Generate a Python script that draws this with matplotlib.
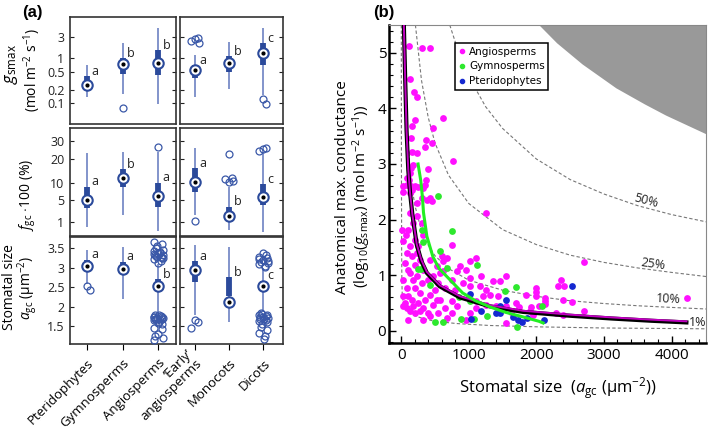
import numpy as np
import matplotlib
matplotlib.use("Agg")
import matplotlib.pyplot as plt
from matplotlib.lines import Line2D
from matplotlib.ticker import MultipleLocator, NullLocator
from matplotlib.transforms import ScaledTranslation

plt.rcParams['font.family'] = ['Open Sans', 'DejaVu Sans']
plt.rcParams['mathtext.fontset'] = 'custom'
plt.rcParams['mathtext.rm'] = 'Open Sans'
plt.rcParams['mathtext.it'] = 'Open Sans:italic'

# ---------------- panel (a) data ----------------
groups = ['Pteridophytes', 'Gymnosperms', 'Angiosperms',
          '\u2018Early\u2019\nangiosperms', 'Monocots', 'Dicots']

# g_smax (mol m-2 s-1)
gs_lo = [0.14, 0.158, 0.096, 0.14, 0.204, 0.153]
gs_q1 = [0.227, 0.448, 0.425, 0.36, 0.50, 0.71]
gs_med = [0.255, 0.736, 0.774, 0.55, 0.80, 1.29]
gs_q3 = [0.40, 1.0, 1.53, 0.71, 1.12, 2.15]
gs_hi = [0.71, 2.22, 4.64, 1.18, 2.27, 4.64]
gs_out = [[], [0.0775], [], [2.64, 2.78, 2.42, 2.15], [], [0.123, 0.096]]
gs_let = ['a', 'b', 'b', 'a', 'b', 'c']

# f_gc * 100 (%)
fg_lo = [0.49, 1.92, 0.26, 1.92, 0.30, 0.21]
fg_q1 = [3.08, 8.55, 3.40, 7.18, 1.44, 3.76]
fg_med = [4.92, 11.7, 5.95, 10.5, 1.77, 5.77]
fg_q3 = [8.74, 15.4, 10.1, 15.8, 3.40, 9.55]
fg_hi = [23.2, 24.0, 24.0, 25.9, 8.74, 24.0]
fg_out = [[], [], [26.5], [1.10], [22.6, 11.9, 11.5, 10.8, 10.5], [25.5, 26.2, 24.6]]
fg_let = ['a', 'b', 'a', 'a', 'b', 'c']

# stomatal size a_gc
sz_lo = [2.575, 2.2, 1.8, 1.78, 1.62, 1.87]
sz_q1 = [2.95, 2.85, 2.45, 2.62, 2.28, 2.45]
sz_med = [3.05, 2.97, 2.53, 2.95, 2.13, 2.52]
sz_q3 = [3.2, 3.15, 2.7, 3.16, 2.75, 2.66]
sz_hi = [3.45, 3.52, 3.1, 3.575, 3.53, 3.0]
sz_out = [[2.53, 2.43], [],
          [3.12, 3.18, 3.22, 3.25, 3.28, 3.3, 3.32, 3.35, 3.38, 3.4, 3.42, 3.45,
           3.5, 3.55, 3.6, 3.66, 3.27, 3.36, 3.31, 3.24,
           1.8, 1.78, 1.76, 1.75, 1.73, 1.72, 1.7, 1.68, 1.66, 1.65, 1.62, 1.74,
           1.71, 1.69, 1.58, 1.55, 1.45, 1.42, 1.3, 1.25, 1.2, 1.15],
          [1.66, 1.62, 1.47], [],
          [3.38, 3.32, 3.28, 3.25, 3.2, 3.15, 3.12, 3.08, 3.05, 3.02, 3.22, 3.18,
           1.85, 1.82, 1.8, 1.78, 1.76, 1.75, 1.73, 1.72, 1.7, 1.68, 1.66, 1.64,
           1.6, 1.55, 1.48, 1.4, 1.32, 1.25, 1.18]]
sz_let = ['a', 'a', 'b', 'a', 'b', 'c']

# ---------------- panel (b) data ----------------
ang_x = [118, 314, 426, 132, 191, 240, 622, 206, 167, 466, 142, 368, 353, 456, 167, 240,
         769, 181, 142, 402, 368, 132, 93, 85, 328, 142, 118, 29, 160, 250, 310, 426,
         34, 206, 353, 132, 377, 451, 230, 132, 230, 181, 304, 108, 10, 73, 328, 34,
         206, 132, 255, 83, 230, 157, 279, 426, 59, 206, 524, 108, 328, 132, 574, 230,
         475, 34, 181, 402, 304, 549, 83, 206, 647, 500, 279, 426, 34, 108, 157, 353,
         524, 59, 255, 475, 83, 181, 34, 328, 279, 132, 206, 402, 108, 328, 623, 1260,
         745, 598, 623, 1015, 1103, 966, 868, 819, 672, 1015, 1187, 1358, 1456, 1554, 1162, 1260,
         917, 745, 795, 1015, 1211, 1309, 1431, 1113, 1260, 1407, 1554, 1701, 1848, 1995, 1995, 1015,
         1113, 745, 647, 745, 819, 549, 426, 574, 966, 1554, 672,
         2706, 4225, 2363, 2314, 2412, 1995, 2387, 2525, 2127, 2127, 2127, 2034, 1922, 2289, 2387, 2706,
         1946, 1750, 1620, 1900]
ang_y = [5.12, 5.09, 5.09, 4.52, 4.29, 4.21, 3.83, 3.80, 3.68, 3.64, 3.46, 3.43, 3.31, 3.37, 3.21, 3.20,
         3.06, 2.99, 2.93, 2.91, 2.72, 2.84, 2.75, 2.63, 2.57, 2.60, 2.72, 2.49, 2.54, 2.58, 2.38, 2.38,
         2.60, 2.60, 2.63, 2.48, 2.36, 2.33, 2.30, 2.12, 2.06, 1.94, 1.94, 1.82, 1.82, 1.73, 1.73, 1.61,
         1.64, 1.52, 1.52, 1.40, 1.40, 1.34, 1.28, 1.28, 1.22, 1.19, 1.16, 1.10, 1.10, 1.04, 1.04, 0.98,
         0.98, 0.92, 0.92, 0.92, 0.86, 0.86, 0.77, 0.77, 0.77, 0.74, 0.68, 0.65, 0.62, 0.62, 0.56, 0.56,
         0.56, 0.50, 0.50, 0.47, 0.41, 0.44, 0.44, 0.41, 0.35, 0.35, 0.32, 0.32, 0.20, 0.20, 1.07, 2.12,
         1.55, 1.34, 1.25, 1.25, 1.30, 1.10, 1.17, 1.07, 1.31, 0.95, 0.98, 0.89, 0.89, 0.99, 0.80, 0.74,
         0.86, 0.92, 0.74, 0.80, 0.62, 0.65, 0.62, 0.53, 0.47, 0.44, 0.44, 0.50, 0.65, 0.77, 0.62, 0.32,
         0.41, 0.53, 0.41, 0.32, 0.44, 0.32, 0.26, 0.56, 0.20, 0.14, 0.23,
         1.23, 0.59, 0.92, 0.81, 0.80, 0.70, 0.55, 0.52, 0.59, 0.53, 0.49, 0.44, 0.43, 0.32, 0.29, 0.35,
         0.29, 0.42, 0.33, 0.36]
gym_x = [544, 309, 750, 324, 574, 250, 290, 677, 1118, 426, 853, 1020, 1530, 1705, 2088, 1265,
         1074, 500, 618, 892, 1720]
gym_y = [2.43, 1.82, 1.80, 1.60, 1.44, 1.12, 1.12, 1.13, 1.19, 0.82, 0.61, 0.53, 0.72, 0.79, 0.44, 0.27,
         0.22, 0.16, 0.15, 0.21, 0.07]
pte_x = [1015, 1554, 1456, 1187, 1040, 1407, 1456, 1652, 1725, 1789, 1858, 2525, 2118]
pte_y = [0.67, 0.56, 0.45, 0.35, 0.21, 0.32, 0.32, 0.25, 0.20, 0.15, 0.23, 0.80, 0.20]

# fitted curves
fit_all_x = [40, 60, 80, 105, 130, 165, 230, 300, 380, 570, 870, 1310, 1800, 2500, 3120, 3700, 4220]
fit_all_y = [5.5, 4.5, 3.6, 2.9, 2.5, 2.1, 1.55, 1.25, 1.04, 0.8, 0.6, 0.44, 0.34, 0.27, 0.22, 0.18, 0.15]
fit_ang_y = [5.5, 4.5, 3.6, 2.9, 2.5, 2.1, 1.56, 1.27, 1.06, 0.82, 0.62, 0.46, 0.36, 0.29, 0.24, 0.2, 0.17]
fit_gym_x = [250, 290, 315, 330, 380, 470, 560, 680, 910, 1100, 1310, 1550, 1800, 2040, 2100]
fit_gym_y = [3.0, 2.7, 2.4, 2.13, 1.7, 1.33, 1.12, 0.97, 0.68, 0.54, 0.43, 0.33, 0.25, 0.17, 0.14]

# f_gc isolines
iso1_x = [2, 4, 7, 10, 15, 30, 60, 130, 200, 325, 500, 820, 1310, 2040, 3000, 4550]
iso1_y = [5.6, 3.0, 1.5, 0.95, 0.68, 0.5, 0.4, 0.32, 0.27, 0.22, 0.17, 0.13, 0.095, 0.07, 0.05, 0.035]
iso10_x = [42, 60, 100, 150, 200, 300, 400, 500, 700, 1000, 1500, 2000, 2500, 3000, 3500, 4000, 4550]
iso10_y = [5.5, 4.48, 3.36, 2.67, 2.27, 1.80, 1.54, 1.35, 1.12, 0.91, 0.73, 0.62, 0.54, 0.49, 0.45, 0.42, 0.39]
iso25_x = [211, 300, 400, 500, 700, 1000, 1500, 2000, 2500, 3000, 3500, 4000, 4550]
iso25_y = [5.5, 4.51, 3.84, 3.38, 2.80, 2.29, 1.82, 1.55, 1.36, 1.23, 1.13, 1.05, 0.97]
iso50_x = [719, 850, 1000, 1250, 1500, 2000, 2500, 3000, 3500, 4000, 4550]
iso50_y = [5.5, 5.01, 4.57, 4.03, 3.64, 3.09, 2.72, 2.46, 2.25, 2.09, 1.95]
grey_x = [2040, 2300, 2676, 3176, 3600, 3912, 4550]
grey_y = [5.5, 5.18, 4.8, 4.37, 4.08, 3.88, 3.52]
iso_labels = ['50%', '25%', '10%', '1%']
iso_lab_x = [3618, 3735, 3955, 4382]
iso_lab_y = [2.33, 1.19, 0.56, 0.14]
iso_lab_rot = [-15, -8, -3, 0]

WHISK = '#6d82c2'
BOX = '#2b4a9b'
OUTC = '#3a58a8'

fig = plt.figure(figsize=(7.09, 4.32), dpi=100)
W, H = 709.0, 432.0


def px_axes(x0, y0, x1, y1):
    return fig.add_axes([x0 / W, 1 - y1 / H, (x1 - x0) / W, (y1 - y0) / H])


def draw_boxes(ax, idx, lo, q1, med, q3, hi, outl, lets):
    for p, i in enumerate(idx):
        ax.plot([p, p], [lo[i], hi[i]], color=WHISK, lw=1.2, solid_capstyle='butt', zorder=2)
        ax.plot([p, p], [q1[i], q3[i]], color=BOX, lw=4.2, solid_capstyle='butt', zorder=3)
        n = len(outl[i])
        if n:
            off = 0.13 * np.sin(np.arange(n) * 2.4) if n > 1 else np.zeros(1)
            ax.plot(p + off, outl[i], 'o', ms=5, mfc='none', mec=OUTC, mew=0.9, zorder=4)
        ax.plot(p, med[i], 'o', ms=7.5, mfc='white', mec=BOX, mew=1.5, zorder=5)
        ax.plot(p, med[i], 'o', ms=2, color='black', zorder=6)
        ax.annotate(lets[i], (p, q3[i]), xytext=(3, 3.6), textcoords='offset points',
                    ha='left', va='center', fontsize=9, color='#222222')


cols = [(70, 176, [0, 1, 2], (-0.48, 2.5)), (180, 283, [3, 4, 5], (-0.45, 2.58))]
rows = [(17, 124), (128, 236), (237, 344)]
row_data = [
    (gs_lo, gs_q1, gs_med, gs_q3, gs_hi, gs_out, gs_let),
    (fg_lo, fg_q1, fg_med, fg_q3, fg_hi, fg_out, fg_let),
    (sz_lo, sz_q1, sz_med, sz_q3, sz_hi, sz_out, sz_let),
]

for r, (y0, y1) in enumerate(rows):
    for c, (x0, x1, idx, xl) in enumerate(cols):
        ax = px_axes(x0, y0, x1, y1)
        draw_boxes(ax, idx, *row_data[r])
        ax.set_xlim(*xl)
        if r == 0:
            ax.set_yscale('log')
            ax.set_ylim(0.0347, 8.28)
            ax.set_yticks([0.1, 0.2, 0.5, 1, 3])
            ax.set_yticklabels(['0.1', '0.2', '0.5', '1', '3'])
            ax.yaxis.set_minor_locator(NullLocator())
        elif r == 1:
            ax.set_yscale('function', functions=(lambda v: np.sqrt(np.clip(v, 0, None)), np.square))
            ax.set_ylim(0.049, 38.7)
            ax.set_yticks([1, 5, 10, 20, 30])
            ax.set_yticklabels(['1', '5', '10', '20', '30'])
            ax.yaxis.set_minor_locator(NullLocator())
        else:
            ax.set_ylim(1.05, 3.78)
            ax.set_yticks([1.5, 2, 2.5, 3, 3.5])
            ax.set_yticklabels(['1.5', '2', '2.5', '3', '3.5'])
        ax.tick_params(axis='y', direction='in', length=3, width=0.8, left=True, right=True,
                       labelleft=(c == 0), labelsize=9, pad=4, colors='#222222')
        if r == 2:
            ax.set_xticks(range(3))
            ax.set_xticklabels([groups[i] for i in idx], rotation=45, ha='right',
                               rotation_mode='anchor', fontsize=9.5)
            for lab in ax.get_xticklabels():
                if '\n' in lab.get_text():
                    lab.set_va('center')
                    lab.set_linespacing(1.0)
                    lab.set_transform(lab.get_transform() +
                                      ScaledTranslation(2.5 / 72, -2.5 / 72, fig.dpi_scale_trans))
            ax.tick_params(axis='x', direction='out', length=4, width=0.8, pad=5)
        else:
            ax.set_xticks([])
        for s in ax.spines.values():
            s.set_color('#333333')
            s.set_linewidth(1.2)

fig.text(11 / W, 1 - 64 / H, r'$g_{\rm smax}$', rotation=90, ha='center', va='center', fontsize=12)
fig.text(32 / W, 1 - 70 / H, '(mol m$^{-2}$ s$^{-1}$)', rotation=90, ha='center', va='center', fontsize=10)
fig.text(28 / W, 1 - 195 / H, r'$f_{\rm gc}$ $\cdot$100 (%)', rotation=90, ha='center', va='center',
         fontsize=10)
fig.text(10 / W, 1 - 287 / H, 'Stomatal size', rotation=90, ha='center', va='center', fontsize=10)
fig.text(28 / W, 1 - 288 / H, '$a_{\\rm gc}$ (\u03bcm$^{-2}$)', rotation=90, ha='center', va='center',
         fontsize=10)
fig.text(32 / W, 1 - 12 / H, '(a)', ha='center', va='center', fontsize=12, fontweight='bold',
         family=['Liberation Sans'])
fig.text(384 / W, 1 - 12 / H, '(b)', ha='center', va='center', fontsize=12, fontweight='bold',
         family=['Liberation Sans'])

# ---------------- panel (b) ----------------
axb = px_axes(389, 25, 706, 343)
axb.fill_between(grey_x, grey_y, 6, color='#999999', lw=0, zorder=1)
for ix, iy in [(iso1_x, iso1_y), (iso10_x, iso10_y), (iso25_x, iso25_y), (iso50_x, iso50_y)]:
    axb.plot(ix, iy, color='#777777', lw=0.8, ls=(0, (3, 2)), zorder=1.5)
for t, tx, ty, rot in zip(iso_labels, iso_lab_x, iso_lab_y, iso_lab_rot):
    axb.text(tx, ty, t, rotation=rot, ha='center', va='center', fontsize=9, color='#222222', zorder=2)

axb.scatter(ang_x, ang_y, s=24, color='#ff10ff', lw=0, zorder=3)
axb.scatter(gym_x, gym_y, s=24, color='#2ee82e', lw=0, zorder=3.2)
axb.scatter(pte_x, pte_y, s=24, color='#1428d0', lw=0, zorder=3.4)
axb.plot(fit_all_x, fit_all_y, color='black', lw=3, zorder=4)
axb.plot(fit_all_x, fit_ang_y, color='#c000c0', lw=1.4, zorder=4.2)
axb.plot(fit_gym_x, fit_gym_y, color='#22ee22', lw=2.2, zorder=4.4)

axb.set_xlim(-180, 4510)
axb.set_ylim(-0.22, 5.5)
axb.set_xticks([0, 1000, 2000, 3000, 4000])
axb.set_yticks([0, 1, 2, 3, 4, 5])
axb.xaxis.set_minor_locator(MultipleLocator(200))
axb.yaxis.set_minor_locator(MultipleLocator(0.2))
axb.tick_params(which='both', direction='in', labelsize=11)
axb.tick_params(axis='y', pad=2)
axb.tick_params(which='major', length=5, width=1)
axb.tick_params(which='minor', length=3, width=0.8)
for side in ['left', 'bottom']:
    axb.spines[side].set_linewidth(1.8)
    axb.spines[side].set_color('black')
for side in ['top', 'right']:
    axb.spines[side].set_linewidth(0.8)
    axb.spines[side].set_color('#888888')

fig.text(558 / W, 1 - 388 / H, 'Stomatal size  ($a_{\\rm gc}$ (\u03bcm$^{-2}$))', ha='center', va='center',
         fontsize=12)
fig.text(343 / W, 1 - 187 / H, 'Anatomical max. conductance', rotation=90, ha='center', va='center',
         fontsize=11)
fig.text(362 / W, 1 - 196 / H, '(log$_{10}$($g_{\\rm smax}$) (mol m$^{-2}$ s$^{-1}$))', rotation=90,
         ha='center', va='center', fontsize=11)

handles = [Line2D([], [], ls='none', marker='o', ms=3, color=cc)
           for cc in ['#ff10ff', '#2ee82e', '#1428d0']]
leg = axb.legend(handles, ['Angiosperms', 'Gymnosperms', 'Pteridophytes'], loc='upper left',
                 bbox_to_anchor=(0.208, 0.943), borderaxespad=0, fancybox=False, framealpha=1,
                 edgecolor='black', handlelength=0.6, handletextpad=0.4, borderpad=0.35,
                 labelspacing=0.45, prop={'family': 'DejaVu Sans', 'size': 7.5})
leg.get_frame().set_linewidth(1.1)
leg.set_zorder(6)

fig.savefig('out.png', dpi=100)
